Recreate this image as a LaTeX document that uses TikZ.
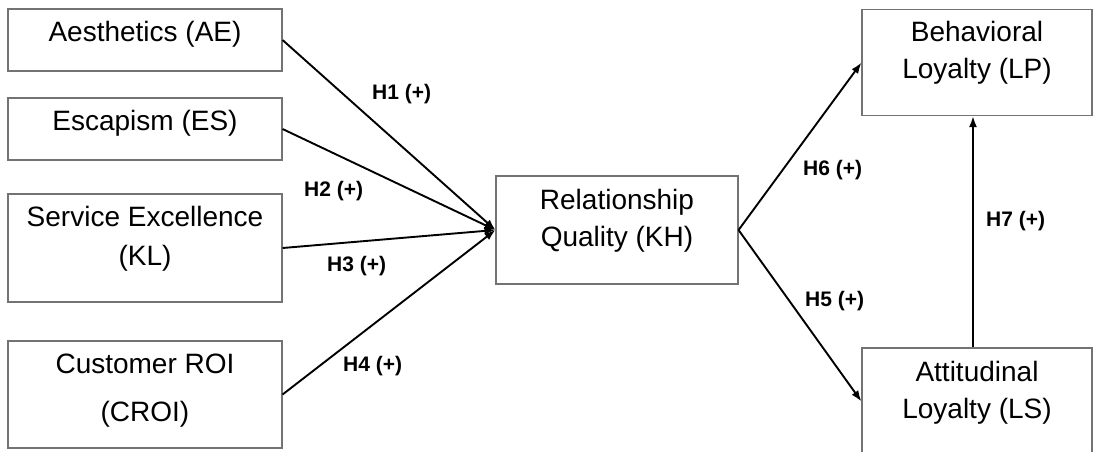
\documentclass[tikz,border=0pt]{standalone}
\usepackage{fontspec}
\setmainfont{Liberation Sans}
\usetikzlibrary{arrows.meta}
\begin{document}
\begin{tikzpicture}[x=1pt,y=-1pt,
  box/.style={draw=black!55,line width=1.1pt,inner sep=0pt,minimum width=274pt},
  boxtext/.style={anchor=base,inner sep=0pt,font=\fontsize{28}{37}\selectfont},
  hyp/.style={anchor=base west,inner sep=0pt,font=\fontsize{21}{25}\selectfont\bfseries},
  conn/.style={draw=black,line width=1.9pt,-{Latex[length=11pt,width=8pt]}}]
\useasboundingbox (0,0) rectangle (1093,451);
% boxes
\node[box,minimum height=62pt] (ae) at (145,40) {};
\node[box,minimum height=62pt] (es) at (145,129) {};
\node[box,minimum height=108pt] (kl) at (145,248) {};
\node[box,minimum height=107pt] (croi) at (145,394.5) {};
\node[box,minimum width=242pt,minimum height=108pt] (kh) at (617,230) {};
\node[box,minimum width=230pt,minimum height=106pt] (lp) at (977,62.6) {};
\node[box,minimum width=230pt,minimum height=107pt] (ls) at (977,401.5) {};
% texts
\node[boxtext] (aet) at (145,41.5) {Aesthetics (AE)};
\node[boxtext] (est) at (145,130) {Escapism (ES)};
\node[boxtext] (klt) at (145,226.7) {\begin{tabular}[t]{@{}c@{}}Service Excellence\\[1.3pt](KL)\end{tabular}};
\node[boxtext] (croit) at (145,373.3) {\begin{tabular}[t]{@{}c@{}}Customer ROI\\[11.3pt](CROI)\end{tabular}};
\node[boxtext] (kht) at (617,209.3) {\begin{tabular}[t]{@{}c@{}}Relationship\\Quality (KH)\end{tabular}};
\node[boxtext] (lpt) at (977,41.7) {\begin{tabular}[t]{@{}c@{}}Behavioral\\Loyalty (LP)\end{tabular}};
\node[boxtext] (lst) at (977,381) {\begin{tabular}[t]{@{}c@{}}Attitudinal\\Loyalty (LS)\end{tabular}};
% connectors
\draw[conn] (ae.east) -- (kh.west);
\draw[conn] (es.east) -- (kh.west);
\draw[conn] (kl.east) -- (kh.west);
\draw[conn] (croi.east) -- (kh.west);
\draw[conn] (kh.east) -- (lp.west);
\draw[conn] (kh.east) -- (ls.west);
\draw[conn] ([xshift=-4pt]ls.north) -- ([xshift=-4pt]lp.south);
% hypothesis labels
\node[hyp] (h1) at (372,99.3) {H1 (+)};
\node[hyp] (h2) at (304,196.7) {H2 (+)};
\node[hyp] (h3) at (327,271.7) {H3 (+)};
\node[hyp] (h4) at (343,371.7) {H4 (+)};
\node[hyp] (h6) at (803,175) {H6 (+)};
\node[hyp] (h5) at (805,306.7) {H5 (+)};
\node[hyp] (h7) at (986,226.7) {H7 (+)};
\end{tikzpicture}
\end{document}
